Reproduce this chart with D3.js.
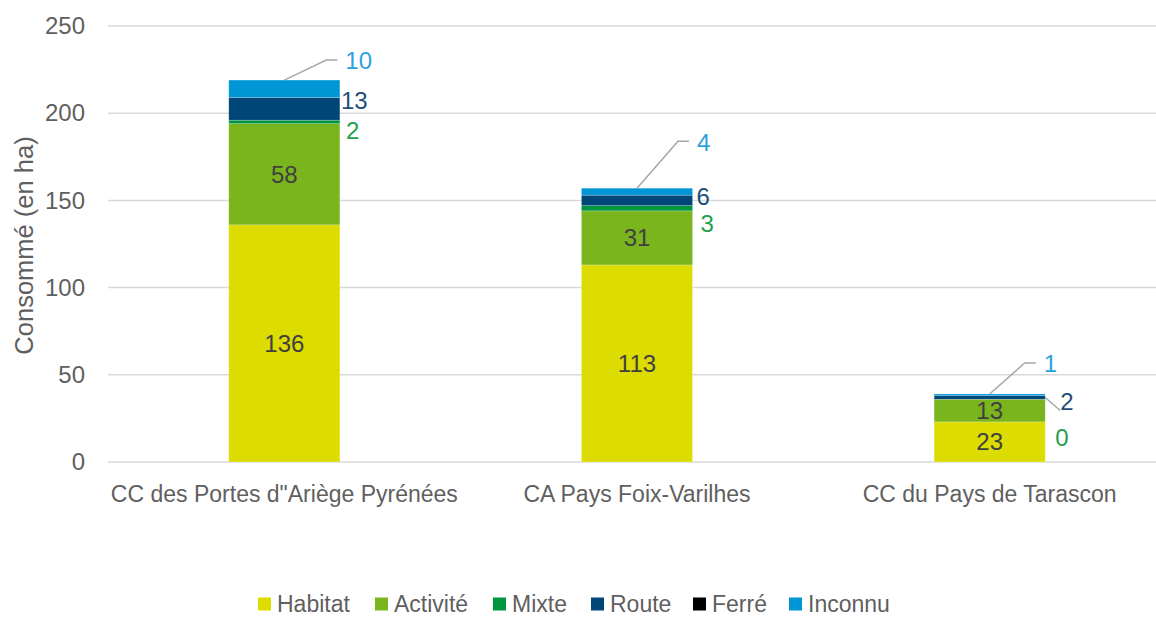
<!DOCTYPE html>
<html>
<head>
<meta charset="utf-8">
<script src="https://cdn.jsdelivr.net/npm/d3@7"></script>
<style>
  body { margin: 0; background: #fff; }
  text { font-family: "Liberation Sans", Arial, sans-serif; fill: #5f5f5f; }
</style>
</head>
<body>
<div id="chart"></div>
<script>
// data
var categories = ["CC des Portes d\"Ariège Pyrénées", "CA Pays Foix-Varilhes", "CC du Pays de Tarascon"];
var seriesNames = ["Habitat", "Activité", "Mixte", "Route", "Ferré", "Inconnu"];
var habitat  = [136, 113, 23];
var activite = [58, 31, 13];
var mixte    = [2, 3, 0];
var route    = [13, 6, 2];
var ferre    = [0, 0, 0];
var inconnu  = [10, 4, 1];
var yTicks = [0, 50, 100, 150, 200, 250];

var colors = ["#dcdc00", "#7ab51d", "#00963f", "#004677", "#000000", "#0096d6"];
var labelColors = {Mixte: "#22a04e", Route: "#1f4e79", Inconnu: "#2aa3dd"};

var W = 1156, H = 617;
var margin = {top: 26, left: 108, bottom: 155};

var svg = d3.select("#chart").append("svg")
  .attr("width", W).attr("height", H);

var x = d3.scaleBand()
  .domain(categories)
  .range([margin.left, 1166])
  .paddingInner(0.685)
  .paddingOuter(0.3425);

var y = d3.scaleLinear()
  .domain([0, 250])
  .range([H - margin.bottom, margin.top]);

// grid
svg.append("g").selectAll("line")
  .data(yTicks).enter().append("line")
    .attr("x1", margin.left).attr("x2", W)
    .attr("y1", function(d) { return y(d); })
    .attr("y2", function(d) { return y(d); })
    .attr("stroke", "#d9d9d9").attr("stroke-width", 1.5);

// y axis labels
var yAxis = svg.append("g")
  .attr("transform", "translate(" + (margin.left - 23) + ",0)")
  .call(d3.axisLeft(y).tickValues(yTicks).tickSize(0).tickPadding(0));
yAxis.select(".domain").remove();
yAxis.selectAll("text")
  .attr("font-size", 24)
  .attr("font-family", null)
  .attr("fill", null);

svg.append("text")
  .attr("transform", "translate(33," + (y(125) + 1.5) + ") rotate(-90)")
  .attr("text-anchor", "middle")
  .attr("font-size", 25.5)
  .text("Consommé (en ha)");

// x axis labels
var xAxis = svg.append("g")
  .attr("transform", "translate(0," + (y(0) + 24) + ")")
  .call(d3.axisBottom(x).tickSize(0).tickPadding(0));
xAxis.select(".domain").remove();
xAxis.selectAll("text")
  .attr("font-size", 23)
  .attr("font-family", null)
  .attr("fill", null)
  .attr("dy", "0.71em");

// stacked bars
var rows = categories.map(function(c, i) {
  return {cat: c, Habitat: habitat[i], "Activité": activite[i], Mixte: mixte[i],
          Route: route[i], "Ferré": ferre[i], Inconnu: inconnu[i]};
});
var stack = d3.stack().keys(seriesNames)(rows);

var layers = svg.append("g").selectAll("g")
  .data(stack).enter().append("g")
    .attr("fill", function(d, i) { return colors[i]; });

layers.selectAll("rect")
  .data(function(d) { return d; })
  .enter().append("rect")
    .attr("x", function(d) { return x(d.data.cat); })
    .attr("y", function(d) { return y(d[1]); })
    .attr("width", x.bandwidth())
    .attr("height", function(d) { return y(d[0]) - y(d[1]); })
    .attr("stroke", "rgba(255,255,255,0.35)")
    .attr("stroke-width", 0.6);

// inside labels (Habitat, Activité)
[0, 1].forEach(function(k) {
  svg.append("g").selectAll("text")
    .data(stack[k]).enter().append("text")
      .attr("x", function(d) { return x(d.data.cat) + x.bandwidth() / 2; })
      .attr("y", function(d) { return y((d[0] + d[1]) / 2); })
      .attr("dy", "0.35em")
      .attr("text-anchor", "middle")
      .attr("font-size", 24)
      .style("fill", "#404040")
      .text(function(d) { return d[1] - d[0]; });
});

// outside labels: offsets from the bar right edge / segment middle
var mixteNudge = [[6, 9], [8, 15], [10, 38]];
var routeNudge = [[1, -8], [4, -4], [15, 4]];
var calloutNudge = [[42, -20], [41, -47], [35, -31]];

svg.append("g").selectAll("text")
  .data(stack[2]).enter().append("text")
    .attr("x", function(d, i) { return x(d.data.cat) + x.bandwidth() + mixteNudge[i][0]; })
    .attr("y", function(d, i) { return y((d[0] + d[1]) / 2) + mixteNudge[i][1]; })
    .attr("dy", "0.35em")
    .attr("font-size", 24)
    .style("fill", labelColors.Mixte)
    .text(function(d) { return d[1] - d[0]; });

// leader for the small Route segment of the last bar
var r3 = stack[3][2];
svg.append("line")
  .attr("x1", x(r3.data.cat) + x.bandwidth())
  .attr("y1", y((r3[0] + r3[1]) / 2))
  .attr("x2", x(r3.data.cat) + x.bandwidth() + 15)
  .attr("y2", y((r3[0] + r3[1]) / 2) + 13)
  .attr("stroke", "#a6a6a6").attr("stroke-width", 1.5);

svg.append("g").selectAll("text")
  .data(stack[3]).enter().append("text")
    .attr("x", function(d, i) { return x(d.data.cat) + x.bandwidth() + routeNudge[i][0]; })
    .attr("y", function(d, i) { return y((d[0] + d[1]) / 2) + routeNudge[i][1]; })
    .attr("dy", "0.35em")
    .attr("font-size", 24)
    .style("fill", labelColors.Route)
    .text(function(d) { return d[1] - d[0]; });

// Inconnu callouts
var callouts = svg.append("g").selectAll("g")
  .data(stack[5]).enter().append("g");

callouts.append("polyline")
  .attr("points", function(d, i) {
    var cx = x(d.data.cat) + x.bandwidth() / 2, cy = y(d[1]);
    var ex = cx + calloutNudge[i][0], ey = cy + calloutNudge[i][1];
    return [[cx, cy], [ex, ey], [ex + 11, ey]].join(" ");
  })
  .attr("fill", "none")
  .attr("stroke", "#a6a6a6").attr("stroke-width", 1.5);

callouts.append("text")
  .attr("x", function(d, i) { return x(d.data.cat) + x.bandwidth() / 2 + calloutNudge[i][0] + 19; })
  .attr("y", function(d, i) { return y(d[1]) + calloutNudge[i][1] + 1; })
  .attr("dy", "0.35em")
  .attr("font-size", 24)
  .style("fill", labelColors.Inconnu)
  .text(function(d) { return d[1] - d[0]; });

// legend
var legendX = [258, 375, 493, 591, 693, 789];
var legend = svg.append("g").selectAll("g")
  .data(seriesNames).enter().append("g")
    .attr("transform", function(d, i) { return "translate(" + legendX[i] + ",604)"; });
legend.append("rect")
  .attr("x", 0).attr("y", -6.5).attr("width", 13).attr("height", 13)
  .attr("fill", function(d, i) { return colors[i]; });
legend.append("text")
  .attr("x", 19).attr("dy", "0.35em")
  .attr("font-size", 23)
  .text(function(d) { return d; });
</script>
</body>
</html>
